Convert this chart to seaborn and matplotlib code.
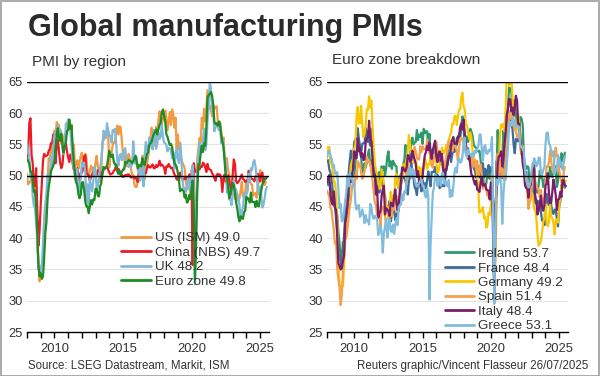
"""
Global manufacturing PMIs: PMI by region and euro zone breakdown.
"""

## Import packages
import numpy as np
import pandas as pd
import matplotlib
matplotlib.use('Agg')
import matplotlib.pyplot as plt
from matplotlib.patches import Rectangle
import seaborn as sns


## Data (monthly, from Jan 2008)
us = [50.3, 48.6, 49.0, 49.1, 49.5, 50.2, 50.0, 49.9, 44.8, 38.9, 36.6, 33.1,
      35.5, 35.7, 36.4, 40.1, 42.8, 45.3, 48.9, 52.8, 52.4, 55.2, 53.6, 54.9,
      57.2, 56.5, 58.6, 58.2, 58.1, 55.8, 55.1, 56.3, 55.2, 56.6, 56.6, 57.0,
      58.5, 58.0, 57.5, 58.2, 53.2, 55.0, 51.4, 51.8, 52.5, 51.1, 52.2, 53.1,
      53.7, 52.0, 52.8, 53.5, 52.9, 50.2, 50.0, 50.7, 51.6, 51.3, 49.9, 50.2,
      52.2, 53.2, 51.5, 50.7, 49.0, 50.9, 55.4, 55.7, 56.2, 56.4, 57.3, 57.0,
      51.3, 53.2, 53.7, 54.9, 55.4, 55.3, 57.1, 58.0, 56.6, 57.9, 57.7, 55.5,
      53.5, 52.9, 51.5, 51.5, 52.8, 53.5, 52.7, 51.1, 50.2, 50.1, 48.6, 48.2,
      48.2, 49.5, 51.8, 50.8, 51.3, 53.2, 52.6, 49.4, 51.5, 51.9, 53.2, 54.7,
      56.0, 57.7, 57.2, 54.8, 54.9, 57.8, 56.3, 58.8, 60.3, 58.7, 58.2, 59.3,
      59.1, 60.4, 59.3, 57.3, 58.7, 60.2, 58.1, 60.6, 59.8, 57.7, 59.3, 54.3,
      56.6, 54.2, 55.3, 52.8, 52.1, 51.7, 51.2, 49.1, 47.8, 48.3, 48.1, 47.2,
      50.9, 50.1, 49.1, 41.5, 43.1, 52.6, 54.2, 56.0, 55.4, 59.3, 57.5, 60.7,
      58.7, 60.8, 63.7, 60.7, 61.2, 60.6, 59.5, 59.9, 61.1, 60.8, 61.1, 58.7,
      57.6, 58.6, 57.1, 55.4, 56.1, 53.0, 52.8, 52.8, 50.9, 50.2, 49.0, 48.4,
      47.4, 47.7, 46.3, 47.1, 46.9, 46.0, 46.4, 47.6, 49.0, 46.7, 46.7, 47.4,
      49.1, 47.8, 50.3, 49.2, 48.7, 48.5, 46.8, 47.2, 47.2, 46.5, 48.4, 49.3,
      50.9, 50.3, 49.0, 48.7, 48.5, 49.0]

china = [53.0, 53.4, 58.4, 59.2, 53.3, 52.0, 48.4, 48.4, 51.2, 44.6, 38.8, 41.2,
         45.3, 49.0, 52.4, 53.5, 53.1, 53.2, 53.3, 54.0, 54.3, 55.2, 55.2, 56.6,
         55.8, 52.0, 55.1, 55.7, 53.9, 52.1, 51.2, 51.7, 53.8, 54.7, 55.2, 53.9,
         52.9, 52.2, 53.4, 52.9, 52.0, 50.9, 50.7, 50.9, 51.2, 50.4, 49.0, 50.3,
         50.5, 51.0, 53.1, 53.3, 50.4, 50.2, 50.1, 49.2, 49.8, 50.2, 50.6, 50.6,
         50.4, 50.1, 50.9, 50.6, 50.8, 50.1, 50.3, 51.0, 51.1, 51.4, 51.4, 51.0,
         50.5, 50.2, 50.3, 50.4, 50.8, 51.0, 51.7, 51.1, 51.1, 50.8, 50.3, 50.1,
         49.8, 49.9, 50.1, 50.1, 50.2, 50.2, 50.0, 49.7, 49.8, 49.8, 49.6, 49.7,
         49.4, 49.0, 50.2, 50.1, 50.1, 50.0, 49.9, 50.4, 50.4, 51.2, 51.7, 51.4,
         51.3, 51.6, 51.8, 51.2, 51.2, 51.7, 51.4, 51.7, 52.4, 51.6, 51.8, 51.6,
         51.3, 50.3, 51.5, 51.4, 51.9, 51.5, 51.2, 51.3, 50.8, 50.2, 50.0, 49.4,
         49.5, 49.2, 50.5, 50.1, 49.4, 49.4, 49.7, 49.5, 49.8, 49.3, 50.2, 50.2,
         50.0, 35.7, 52.0, 50.8, 50.6, 50.9, 51.1, 51.0, 51.5, 51.4, 52.1, 51.9,
         51.3, 50.6, 51.9, 51.1, 51.0, 50.9, 50.4, 50.1, 49.6, 49.2, 50.1, 50.3,
         50.1, 50.2, 49.5, 47.4, 49.6, 50.2, 49.0, 49.4, 50.1, 49.2, 48.0, 47.0,
         50.1, 52.6, 51.9, 49.2, 48.8, 49.0, 49.3, 49.7, 50.2, 49.5, 49.4, 49.0,
         49.2, 49.1, 50.8, 50.4, 49.5, 49.5, 49.4, 49.1, 49.8, 50.1, 50.3, 50.1,
         49.1, 50.2, 50.5, 49.0, 49.5, 49.7]

uk = [55.3, 53.7, 53.2, 49.7, 49.9, 46.7, 45.2, 44.9, 42.4, 40.4, 35.1, 34.9,
      34.6, 35.8, 39.1, 43.1, 45.4, 47.2, 50.2, 49.7, 49.3, 53.1, 51.6, 54.1,
      56.6, 56.5, 57.2, 58.0, 57.6, 57.3, 57.1, 54.3, 53.5, 54.7, 58.3, 58.3,
      59.0, 58.5, 57.1, 54.6, 52.1, 51.3, 49.4, 49.0, 51.1, 47.4, 47.6, 49.6,
      52.1, 51.5, 52.1, 50.5, 45.9, 48.6, 45.4, 49.5, 48.4, 47.5, 49.1, 51.4,
      50.8, 47.9, 48.3, 49.8, 51.3, 52.5, 54.6, 57.2, 56.7, 56.0, 58.4, 57.3,
      56.6, 56.2, 55.3, 57.3, 57.0, 57.5, 55.4, 52.5, 51.6, 53.2, 53.5, 52.5,
      53.0, 54.1, 54.4, 52.0, 52.0, 51.4, 51.9, 51.5, 51.8, 55.5, 52.7, 51.9,
      52.9, 50.8, 51.0, 49.2, 50.1, 52.1, 48.3, 53.3, 55.4, 54.3, 53.4, 56.1,
      55.9, 54.6, 54.2, 57.3, 56.7, 54.3, 55.1, 56.9, 55.9, 56.3, 58.2, 56.3,
      55.3, 55.2, 54.9, 53.9, 54.4, 54.4, 54.0, 52.8, 53.8, 51.1, 53.1, 54.2,
      52.8, 52.0, 55.1, 53.1, 49.4, 48.0, 48.0, 47.4, 48.3, 49.6, 48.9, 47.5,
      50.0, 51.7, 47.8, 32.6, 40.7, 50.1, 53.3, 55.2, 54.1, 53.7, 55.6, 57.5,
      54.1, 55.1, 58.9, 60.9, 65.0, 63.9, 60.4, 60.3, 57.1, 57.8, 58.1, 57.9,
      57.3, 58.0, 55.2, 55.8, 54.6, 52.8, 52.1, 47.3, 48.4, 46.2, 46.5, 45.3,
      47.0, 49.3, 47.9, 47.8, 47.1, 46.5, 45.3, 43.0, 44.3, 44.8, 47.2, 46.2,
      47.0, 47.5, 50.3, 49.1, 51.2, 50.9, 52.1, 52.5, 51.5, 49.9, 48.0, 47.0,
      48.3, 46.9, 44.9, 45.4, 46.4, 47.7, 48.2]

euro = [52.8, 52.3, 52.0, 50.7, 50.6, 49.2, 47.4, 47.6, 45.0, 41.1, 35.6, 33.9,
        34.4, 33.5, 33.9, 36.8, 40.7, 42.6, 46.3, 48.2, 49.3, 50.7, 51.2, 51.6,
        52.4, 54.2, 56.6, 57.6, 55.8, 55.6, 56.7, 55.1, 53.7, 54.6, 55.3, 57.1,
        57.3, 59.0, 57.5, 58.0, 54.6, 52.0, 50.4, 49.0, 48.5, 47.1, 46.4, 46.9,
        48.8, 49.0, 47.7, 45.9, 45.1, 45.1, 44.0, 45.1, 46.1, 45.4, 46.2, 46.1,
        47.9, 47.9, 46.8, 46.7, 48.3, 48.8, 50.3, 51.4, 51.1, 51.3, 51.6, 52.7,
        54.0, 53.2, 53.0, 53.4, 52.2, 51.8, 51.8, 50.7, 50.3, 50.6, 50.1, 50.6,
        51.0, 51.0, 52.2, 52.0, 52.2, 52.5, 52.4, 52.3, 52.0, 52.3, 52.8, 53.2,
        52.3, 51.2, 51.6, 51.7, 51.5, 52.8, 52.0, 51.7, 52.6, 53.5, 53.7, 54.9,
        55.2, 55.4, 56.2, 56.7, 57.0, 57.4, 56.6, 57.4, 58.1, 58.5, 60.1, 60.6,
        59.6, 58.6, 56.6, 56.2, 55.5, 54.9, 55.1, 54.6, 53.2, 52.0, 51.8, 51.4,
        50.5, 49.3, 47.5, 47.9, 47.7, 47.6, 46.5, 47.0, 45.7, 45.9, 46.9, 46.3,
        47.9, 49.2, 44.5, 33.4, 39.4, 47.4, 51.8, 51.7, 53.7, 54.8, 53.8, 55.2,
        54.8, 57.9, 62.5, 62.9, 63.1, 63.4, 62.8, 61.4, 58.6, 58.3, 58.4, 58.0,
        58.7, 58.2, 56.5, 55.5, 54.6, 52.1, 49.8, 49.6, 48.4, 46.4, 47.1, 47.8,
        48.8, 48.5, 47.3, 45.8, 44.8, 43.4, 42.7, 43.5, 43.4, 43.1, 44.2, 44.4,
        46.6, 46.5, 46.1, 45.7, 47.3, 45.8, 45.8, 45.8, 45.0, 46.0, 45.2, 45.1,
        46.6, 47.6, 48.6, 49.0, 49.4, 49.5, 49.8]

ireland = [49.0, 48.5, 48.9, 47.9, 47.8, 46.8, 45.2, 45.1, 43.6, 43.8, 41.0, 39.3,
           36.4, 37.1, 39.4, 39.2, 41.1, 42.5, 44.5, 46.3, 49.2, 50.4, 49.9, 49.8,
           50.1, 52.3, 54.0, 54.6, 55.1, 53.7, 53.0, 50.6, 51.1, 52.0, 51.3, 52.1,
           53.5, 54.2, 51.7, 52.5, 52.3, 50.2, 49.8, 50.2, 48.2, 48.1, 50.6, 49.7,
           51.5, 51.0, 51.5, 50.1, 51.2, 53.1, 53.9, 51.5, 52.3, 51.1, 52.4, 52.0,
           51.6, 51.5, 48.6, 48.0, 49.7, 50.3, 50.1, 51.8, 52.6, 54.9, 52.4, 52.7,
           53.1, 52.9, 55.5, 56.1, 55.0, 55.3, 55.4, 57.3, 55.7, 56.6, 56.2, 56.9,
           55.1, 57.5, 56.8, 57.1, 57.1, 54.6, 56.7, 53.6, 53.1, 54.2, 53.6, 54.2,
           52.7, 52.2, 53.2, 52.2, 53.2, 52.6, 51.6, 51.7, 51.3, 52.3, 53.7, 55.7,
           55.5, 53.6, 53.6, 54.4, 55.0, 54.7, 56.0, 56.1, 55.4, 56.3, 58.1, 59.5,
           57.6, 55.2, 55.3, 56.3, 55.4, 56.6, 57.5, 57.0, 56.3, 54.9, 54.6, 54.5,
           54.0, 53.9, 54.0, 52.5, 50.4, 49.8, 48.7, 48.6, 48.7, 50.7, 49.7, 49.5,
           51.4, 51.2, 45.1, 36.0, 39.2, 51.0, 57.3, 52.3, 50.0, 50.3, 52.2, 57.2,
           51.8, 51.4, 57.1, 60.8, 64.1, 64.0, 63.3, 60.3, 59.4, 62.1, 59.9, 58.3,
           58.1, 57.8, 59.4, 59.1, 58.1, 53.1, 51.8, 51.1, 51.5, 51.4, 48.7, 48.7,
           50.1, 51.3, 51.7, 48.6, 47.5, 47.3, 48.6, 50.8, 49.6, 50.0, 48.2, 49.2,
           49.6, 49.6, 50.3, 49.6, 51.4, 50.0, 49.8, 51.7, 50.4, 51.5, 48.2, 49.1,
           51.6, 51.5, 53.6, 53.2, 52.2, 53.7]

france = [52.2, 52.5, 51.0, 50.5, 49.9, 47.6, 45.4, 46.2, 42.9, 41.0, 38.6, 37.4,
          36.4, 35.3, 37.9, 40.4, 43.7, 45.7, 48.2, 50.3, 52.4, 54.0, 51.4, 53.0,
          55.4, 55.8, 56.4, 57.6, 55.9, 54.8, 53.6, 55.1, 55.2, 55.2, 57.6, 57.2,
          55.4, 55.7, 54.8, 57.5, 54.7, 52.5, 50.5, 49.1, 48.2, 48.5, 47.3, 48.9,
          48.5, 50.0, 46.7, 46.9, 44.7, 45.2, 43.4, 46.0, 42.7, 43.7, 44.5, 44.6,
          42.9, 43.9, 44.0, 44.4, 46.4, 48.4, 49.7, 49.7, 49.8, 49.1, 48.4, 47.0,
          49.3, 49.7, 52.1, 50.6, 49.6, 48.2, 47.8, 46.9, 48.8, 48.5, 48.4, 47.5,
          49.2, 47.6, 48.8, 48.0, 49.4, 50.7, 49.6, 48.3, 50.6, 50.6, 50.6, 51.4,
          50.0, 50.2, 49.6, 48.0, 48.4, 48.3, 48.6, 48.3, 49.7, 51.8, 51.7, 53.5,
          53.6, 52.2, 53.3, 55.1, 53.8, 54.8, 54.9, 55.8, 56.1, 56.1, 57.7, 58.8,
          58.4, 55.9, 53.7, 53.8, 54.4, 52.5, 53.3, 53.5, 52.5, 51.2, 50.8, 49.7,
          51.2, 51.5, 49.7, 50.0, 50.6, 52.0, 49.7, 51.1, 50.1, 50.7, 51.7, 50.4,
          51.1, 49.8, 43.2, 31.5, 40.6, 52.3, 52.4, 49.8, 51.2, 51.3, 49.6, 51.1,
          51.6, 56.1, 59.3, 58.9, 59.4, 59.0, 58.0, 57.5, 55.0, 53.6, 55.9, 55.6,
          55.5, 57.2, 54.7, 55.7, 54.6, 51.4, 49.5, 50.6, 47.7, 47.2, 48.3, 49.2,
          50.5, 47.4, 47.3, 45.6, 45.7, 46.0, 45.1, 46.0, 44.2, 42.8, 42.9, 42.1,
          43.1, 47.1, 46.2, 45.3, 46.4, 45.4, 44.0, 43.9, 44.6, 44.5, 43.1, 41.9,
          45.0, 45.8, 48.5, 48.7, 49.8, 48.1, 48.4]

germany = [53.2, 54.6, 54.6, 52.0, 52.7, 50.5, 49.0, 49.0, 47.0, 42.9, 35.7, 32.7,
           32.0, 32.1, 32.4, 35.4, 39.6, 40.6, 45.6, 49.5, 49.6, 51.6, 52.4, 52.7,
           54.4, 55.0, 59.6, 61.0, 58.4, 58.4, 61.2, 58.2, 56.2, 56.7, 58.1, 60.7,
           60.5, 62.7, 60.9, 62.0, 57.7, 54.6, 52.0, 50.9, 50.3, 49.1, 47.9, 48.4,
           51.0, 50.2, 48.4, 46.2, 45.2, 45.0, 43.0, 44.7, 47.4, 46.0, 46.8, 46.0,
           49.8, 50.3, 49.0, 48.1, 49.4, 48.6, 50.7, 51.8, 51.1, 51.7, 52.7, 54.3,
           56.5, 54.8, 53.7, 54.1, 52.3, 52.0, 52.4, 51.4, 49.9, 51.4, 49.5, 51.2,
           50.9, 51.1, 52.8, 52.1, 51.1, 51.9, 51.8, 53.3, 52.3, 52.1, 52.9, 53.2,
           52.3, 50.5, 50.7, 51.8, 52.1, 54.5, 53.8, 53.6, 54.3, 55.0, 54.3, 55.6,
           56.4, 56.8, 58.3, 58.2, 59.5, 59.6, 58.1, 59.3, 60.6, 60.6, 62.5, 63.3,
           61.1, 60.6, 58.2, 58.1, 56.9, 55.9, 56.9, 55.9, 53.7, 52.2, 51.8, 51.5,
           49.7, 47.6, 44.1, 44.4, 44.3, 45.0, 43.2, 43.5, 41.7, 42.1, 44.1, 43.7,
           45.3, 48.0, 45.4, 34.5, 36.6, 45.2, 51.0, 52.2, 56.4, 58.2, 57.8, 58.3,
           57.1, 60.7, 66.6, 66.2, 64.4, 65.1, 65.9, 62.6, 58.4, 57.8, 57.4, 57.4,
           59.8, 58.4, 56.9, 54.6, 54.8, 52.0, 49.3, 49.1, 47.8, 45.1, 46.2, 47.1,
           47.3, 46.3, 44.7, 44.5, 43.2, 40.6, 38.8, 39.1, 39.6, 40.8, 42.6, 43.3,
           45.5, 42.5, 41.9, 42.5, 45.4, 43.5, 43.2, 42.4, 40.6, 43.0, 43.0, 42.5,
           45.0, 46.5, 48.3, 48.4, 48.3, 49.0, 49.2]

spain = [47.6, 47.1, 46.8, 44.9, 44.5, 42.8, 41.3, 39.1, 39.5, 35.1, 33.5, 32.1,
         29.3, 30.9, 34.8, 37.8, 40.2, 40.1, 41.5, 43.4, 45.1, 46.2, 48.2, 49.3,
         48.2, 50.1, 49.5, 52.3, 51.5, 52.0, 50.5, 49.5, 49.8, 50.8, 51.7, 53.0,
         52.2, 52.5, 51.8, 50.6, 49.2, 47.4, 45.7, 45.3, 43.7, 44.5, 44.1, 42.0,
         45.1, 45.0, 44.5, 43.5, 42.0, 41.1, 41.9, 44.0, 44.5, 43.5, 45.3, 44.6,
         46.1, 46.8, 44.2, 44.7, 48.1, 50.0, 49.8, 51.1, 50.7, 50.9, 48.6, 50.8,
         52.2, 52.5, 52.8, 52.7, 52.9, 54.6, 53.9, 52.8, 52.6, 52.6, 54.7, 53.8,
         54.7, 54.2, 54.3, 54.2, 55.8, 54.5, 53.6, 53.2, 51.7, 51.3, 53.1, 53.0,
         55.4, 54.1, 53.4, 53.5, 51.8, 52.2, 51.0, 51.0, 52.3, 53.3, 54.5, 55.3,
         55.6, 54.8, 53.9, 54.5, 55.4, 54.7, 54.0, 52.4, 54.3, 55.8, 56.1, 55.8,
         55.2, 56.0, 54.8, 54.4, 53.4, 53.4, 52.9, 53.0, 51.4, 51.8, 52.6, 51.1,
         52.4, 49.9, 50.9, 51.8, 50.1, 47.9, 48.2, 48.8, 47.7, 46.8, 47.5, 47.4,
         48.5, 50.4, 45.7, 30.8, 38.3, 49.0, 53.5, 49.9, 50.8, 52.5, 49.8, 51.0,
         49.3, 52.9, 56.9, 57.7, 59.4, 60.4, 59.0, 59.5, 58.1, 57.4, 57.1, 56.2,
         56.2, 56.9, 54.2, 53.3, 53.8, 52.6, 48.7, 49.9, 49.0, 44.7, 45.7, 46.4,
         48.4, 50.7, 51.3, 49.0, 48.4, 48.0, 47.8, 46.5, 47.7, 45.1, 46.3, 46.2,
         49.2, 51.5, 51.4, 52.2, 54.0, 52.3, 51.0, 50.5, 53.0, 54.5, 53.1, 53.3,
         50.9, 49.7, 49.0, 48.1, 50.5, 51.4]

italy = [48.9, 49.6, 50.1, 47.0, 45.8, 45.4, 47.5, 44.9, 44.5, 40.3, 36.0, 35.6,
         35.0, 35.2, 36.4, 37.2, 42.4, 43.6, 45.3, 48.6, 49.9, 49.0, 50.2, 51.3,
         53.9, 52.9, 52.8, 56.0, 53.9, 54.4, 53.0, 53.6, 52.5, 52.6, 55.3, 56.0,
         56.1, 58.8, 55.8, 55.5, 52.8, 49.9, 50.1, 47.0, 48.3, 43.3, 44.0, 44.3,
         46.8, 47.8, 48.4, 43.8, 44.8, 44.6, 44.3, 43.6, 45.7, 45.5, 45.1, 46.7,
         47.8, 45.8, 44.5, 45.5, 47.3, 49.1, 51.3, 51.3, 50.8, 50.7, 51.4, 53.3,
         53.1, 52.3, 52.4, 54.0, 53.2, 52.6, 51.9, 49.8, 50.7, 49.0, 49.0, 48.4,
         49.9, 51.9, 53.3, 53.8, 54.8, 54.1, 55.3, 53.8, 52.7, 54.1, 54.9, 55.6,
         53.2, 52.2, 53.5, 53.9, 52.4, 53.5, 51.2, 49.8, 51.0, 50.9, 52.2, 53.2,
         53.0, 55.0, 55.7, 56.2, 55.1, 55.2, 55.1, 56.3, 56.3, 57.8, 58.3, 57.4,
         59.0, 56.8, 55.1, 53.5, 52.7, 53.3, 51.5, 50.1, 50.0, 49.2, 48.6, 49.2,
         47.8, 47.7, 47.4, 49.1, 49.7, 48.4, 48.5, 48.7, 47.8, 47.7, 47.6, 46.2,
         48.9, 48.7, 40.3, 31.1, 45.4, 47.5, 51.9, 53.1, 53.2, 53.9, 51.5, 52.8,
         55.1, 56.9, 59.8, 60.7, 62.3, 62.2, 60.3, 60.9, 59.7, 61.1, 62.8, 62.0,
         58.3, 58.3, 55.8, 54.5, 51.9, 50.9, 48.5, 48.0, 48.3, 46.5, 48.4, 48.5,
         50.4, 52.0, 51.1, 46.8, 45.9, 43.8, 44.5, 45.4, 46.8, 44.9, 44.4, 45.3,
         48.5, 48.7, 50.4, 47.3, 45.6, 45.7, 47.4, 49.4, 48.3, 46.9, 44.5, 46.2,
         46.3, 47.4, 46.6, 49.3, 49.2, 48.4]

greece = [52.9, 53.8, 54.0, 53.3, 52.6, 51.8, 51.7, 50.4, 50.2, 50.6, 47.7, 44.8,
          45.5, 42.7, 42.9, 44.3, 46.0, 47.4, 50.1, 48.3, 50.4, 49.6, 49.7, 48.6,
          48.7, 45.5, 44.6, 45.2, 45.3, 43.4, 43.8, 44.6, 43.8, 42.4, 43.7, 42.7,
          42.9, 42.2, 45.5, 45.0, 43.6, 43.1, 43.6, 43.2, 43.2, 40.5, 40.9, 41.9,
          41.0, 37.7, 40.7, 41.9, 43.1, 40.1, 42.0, 43.1, 41.2, 41.0, 42.2, 40.7,
          42.1, 43.2, 42.1, 45.0, 45.3, 45.4, 47.0, 46.1, 47.5, 47.3, 49.2, 49.6,
          51.0, 51.3, 49.7, 51.1, 51.0, 49.4, 48.7, 48.4, 48.4, 48.8, 49.1, 49.4,
          48.3, 48.4, 46.9, 46.5, 48.0, 46.9, 30.2, 39.1, 43.3, 47.3, 48.1, 50.2,
          50.0, 48.4, 49.7, 49.7, 48.4, 50.4, 50.4, 48.7, 49.2, 48.6, 48.3, 49.3,
          46.6, 47.7, 46.7, 48.2, 50.5, 51.3, 50.5, 52.2, 52.8, 52.1, 52.2, 53.1,
          55.2, 56.1, 53.5, 52.9, 54.2, 53.5, 53.5, 53.1, 53.6, 53.1, 54.0, 53.7,
          54.2, 54.7, 56.6, 56.6, 54.2, 52.4, 54.6, 54.9, 53.6, 53.5, 54.1, 53.9,
          54.4, 56.2, 42.5, 29.5, 41.1, 49.4, 48.6, 49.4, 50.0, 48.7, 42.3, 46.9,
          49.4, 49.4, 51.8, 54.4, 58.0, 58.6, 58.0, 59.2, 58.4, 58.9, 57.8, 57.9,
          57.9, 57.8, 54.6, 54.7, 54.2, 53.8, 51.1, 49.3, 48.7, 48.1, 48.4, 49.2,
          51.1, 51.7, 52.8, 52.4, 51.5, 51.8, 52.9, 52.9, 50.3, 50.2, 50.9, 51.3,
          55.0, 56.9, 56.9, 55.2, 54.9, 54.0, 53.2, 53.9, 50.3, 51.0, 50.9, 53.1,
          52.8, 51.7, 52.0, 51.0, 52.2, 53.1]

# Legend labels and colours
left_series = {'US (ISM) 49.0': us, 'China (NBS) 49.7': china,
               'UK 48.2': uk, 'Euro zone 49.8': euro}
left_colors = ['#F29A42', '#EC1C24', '#80B8DA', '#1E8B24']

right_series = {'Ireland 53.7': ireland, 'France 48.4': france,
                'Germany 49.2': germany, 'Spain 51.4': spain,
                'Italy 48.4': italy, 'Greece 53.1': greece}
right_colors = ['#2E9A6C', '#3E6C97', '#F8C700', '#F4A04C', '#7A1D6B', '#80BCDD']


def to_long(series):
    frames = []
    for name, vals in series.items():
        x = 2008 + np.arange(len(vals)) / 12.0
        frames.append(pd.DataFrame({'year': x, 'pmi': vals, 'series': name}))
    return pd.concat(frames, ignore_index=True)


df_left = to_long(left_series)
df_right = to_long(right_series)


## Figure
sns.set_theme(style='white')
plt.rcParams['font.family'] = ['Liberation Sans', 'DejaVu Sans']
text_col = '#333333'

fig = plt.figure(figsize=(6.0, 3.76), dpi=100)
ax1 = fig.add_axes([0.045, 0.117, 0.4033, 0.665])
ax2 = fig.add_axes([0.545, 0.117, 0.4017, 0.665])

sns.lineplot(ax=ax1, data=df_left, x='year', y='pmi', hue='series',
             hue_order=list(left_series), palette=left_colors, lw=1.6)
sns.lineplot(ax=ax2, data=df_right, x='year', y='pmi', hue='series',
             hue_order=list(right_series), palette=right_colors, lw=1.6)

for ax, leg_xy in [(ax1, (0.39, 0.40)), (ax2, (0.49, 0.337))]:
    ax.set_xlim(2008.0, 2025.65)
    ax.set_ylim(25, 65)
    ax.set_xlabel('')
    ax.set_ylabel('')
    # Grid lines
    for v in [30, 35, 40, 45, 55, 60]:
        ax.axhline(v, color='#e3e3e3', lw=0.8, zorder=0)
    for v in [50, 65]:
        ax.axhline(v, color='black', lw=1.0, zorder=5)
    for s in ['top', 'right', 'left']:
        ax.spines[s].set_visible(False)
    ax.spines['bottom'].set_color('black')
    ax.spines['bottom'].set_linewidth(1.0)
    ax.set_yticks(range(25, 66, 5))
    ax.set_xticks([2010, 2015, 2020, 2025])
    ax.set_xticks(range(2008, 2026), minor=True)
    ax.tick_params(axis='y', length=0, pad=3, labelsize=9.3, labelcolor=text_col)
    ax.tick_params(axis='x', which='both', direction='out', length=4,
                   width=1, color='black', bottom=True, pad=4,
                   labelsize=9.3, labelcolor=text_col)
    ax.legend(loc='upper left', bbox_to_anchor=leg_xy, frameon=False,
              fontsize=9.6, handlelength=2.2, handletextpad=0.3,
              labelspacing=0.16, borderpad=0, borderaxespad=0,
              labelcolor=text_col)
    for line in ax.get_legend().get_lines():
        line.set_linewidth(2.0)

# Titles and notes
fig.text(0.047, 0.965, 'Global manufacturing PMIs', fontsize=22,
         fontweight='bold', color='#2b2b2b', va='top', ha='left')
fig.text(0.053, 0.835, 'PMI by region', fontsize=11, color=text_col, va='center')
fig.text(0.553, 0.84, 'Euro zone breakdown', fontsize=11, color=text_col, va='center')
fig.text(0.047, 0.027, 'Source: LSEG Datastream, Markit, ISM', fontsize=8.3,
         color=text_col, va='center')
fig.text(0.98, 0.027, 'Reuters graphic/Vincent Flasseur 26/07/2025', fontsize=8.3,
         color=text_col, va='center', ha='right')

# Grey frame around figure
fig.patches.append(Rectangle((0.001, 0.001), 0.997, 0.996, transform=fig.transFigure,
                             fill=False, edgecolor='#9c9c9c', lw=1.2))

plt.savefig('out.png', dpi=100)
